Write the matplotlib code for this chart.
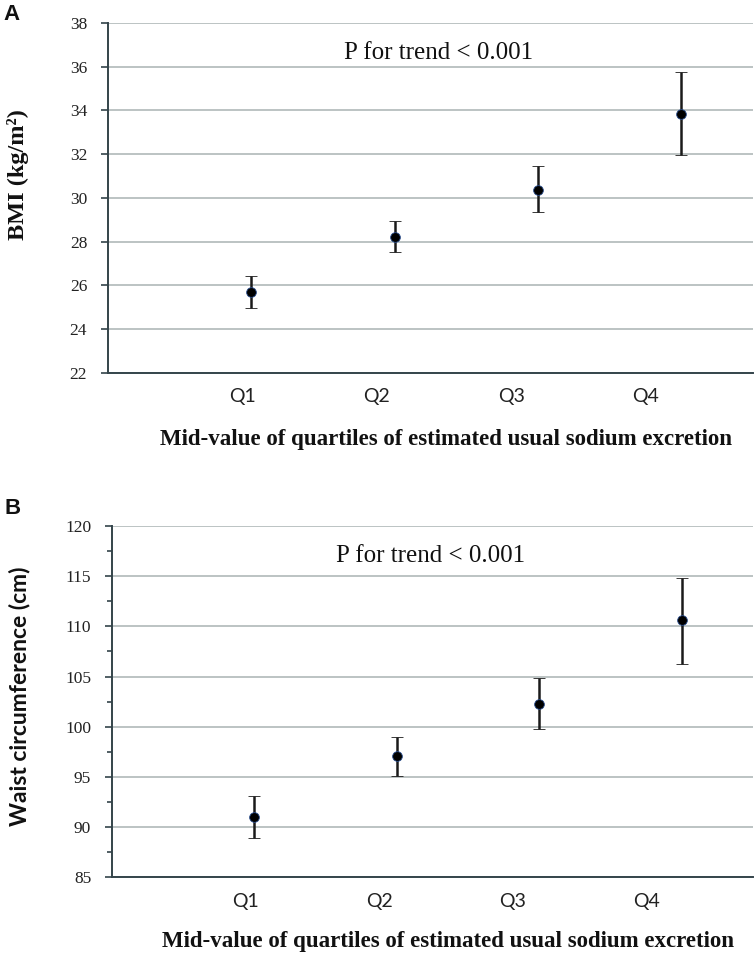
import numpy as np
import matplotlib.pyplot as plt

# values (mean with lower / upper ends of the error bars)
quartiles = ['Q1', 'Q2', 'Q3', 'Q4']
bmi_mean = [25.68, 28.22, 30.38, 33.85]
bmi_lower = [24.98, 27.53, 29.36, 31.97]
bmi_upper = [26.43, 28.93, 31.48, 35.77]
waist_mean = [91.0, 97.1, 102.3, 110.6]
waist_lower = [88.9, 95.1, 99.75, 106.3]
waist_upper = [93.1, 98.95, 104.9, 114.8]

xlabel = 'Mid-value of quartiles of estimated usual sodium excretion'
ptext = 'P for trend < 0.001'

# quartile labels sit a bit left of the points (like the original Excel chart)
label_pos = np.arange(1, 5) * 4.5 / 4.8

W, H = 756, 957
fig = plt.figure(figsize=(W / 100, H / 100), dpi=100)
ax_a = fig.add_axes([108 / W, 1 - 372.7 / H, 645 / W, 349.7 / H])
ax_b = fig.add_axes([112 / W, 1 - 877.3 / H, 641 / W, 351.3 / H])


def draw_panel(ax, mean, lower, upper, ylim, step, minor, px):
    x = np.arange(1, len(mean) + 1)
    mean = np.array(mean)
    yerr = [mean - np.array(lower), np.array(upper) - mean]
    ax.errorbar(x, mean, yerr=yerr, fmt='o', ms=7, mfc='black', mec='#2b4f8f',
                mew=0.6, ecolor='#1a1a1a', elinewidth=1.8, capsize=4,
                capthick=1.8, zorder=3)
    ax.set_xlim(0, 4.5)
    ax.set_ylim(*ylim)
    ax.set_yticks(np.arange(ylim[0], ylim[1] + 0.1, step))
    if minor:
        ax.set_yticks(np.arange(ylim[0] + step / 2, ylim[1], step), minor=True)
    ax.grid(axis='y', color='#a9b3b3', lw=1.1)
    ax.set_axisbelow(True)
    for s in ['top', 'right']:
        ax.spines[s].set_visible(False)
    for s in ['left', 'bottom']:
        ax.spines[s].set_color('#34444a')
        ax.spines[s].set_linewidth(1.4)
    # y ticks in a Times-like face
    ax.tick_params(axis='y', which='major', length=5, width=1.2, color='#34444a',
                   pad=10, labelsize=12.5, labelcolor='#222222')
    ax.tick_params(axis='y', which='minor', length=3.5, width=1.2, color='#34444a')
    for t in ax.get_yticklabels():
        t.set_fontfamily('Liberation Serif')
    # quartile labels
    ax.set_xticks(label_pos, quartiles)
    ax.tick_params(axis='x', length=0, pad=11, labelsize=14, labelcolor='#222222')
    for t in ax.get_xticklabels():
        t.set_fontfamily('Lato')
    ax.text(px, 0.897, ptext, transform=ax.transAxes, ha='center', va='baseline',
            fontsize=18, family='Liberation Serif', color='#111111')


draw_panel(ax_a, bmi_mean, bmi_lower, bmi_upper, (22, 38), 2, False, 0.512)
draw_panel(ax_b, waist_mean, waist_lower, waist_upper, (85, 120), 5, True, 0.497)

# x axis titles
ax_a.text(0.524, -0.19, xlabel, transform=ax_a.transAxes, ha='center', va='center',
          fontsize=16.5, family='Liberation Serif', weight='bold', color='#111111')
ax_b.text(0.524, -0.184, xlabel, transform=ax_b.transAxes, ha='center', va='center',
          fontsize=16.5, family='Liberation Serif', weight='bold', color='#111111')

# y axis titles
fig.text(18 / W, 1 - 175 / H, 'BMI (kg/m²)', rotation=90, ha='center', va='center',
         fontsize=17.5, family='Liberation Serif', weight='bold', color='#111111')
fig.text(20 / W, 1 - 696 / H, 'Waist circumference (cm)', rotation=90, ha='center',
         va='center', fontsize=16.5, family='Lato', weight='bold', color='#111111')

# panel letters
fig.text(3 / W, 1 - 14 / H, 'A', ha='left', va='center', fontsize=16,
         family='Liberation Sans', weight='bold', color='#111111')
fig.text(4 / W, 1 - 508 / H, 'B', ha='left', va='center', fontsize=16,
         family='Liberation Sans', weight='bold', color='#111111')

fig.savefig('out.png', dpi=100)
